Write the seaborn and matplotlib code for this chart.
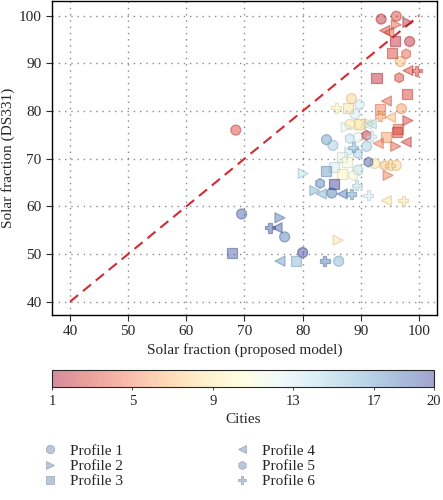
import numpy as np
import pandas as pd
import seaborn as sns
import matplotlib.pyplot as plt
from matplotlib.colors import ListedColormap, Normalize
from matplotlib.cm import ScalarMappable
from matplotlib.lines import Line2D

# Values: (proposed model, DS331, city index)
p1_x = [93.5, 96.1, 98.4, 96.8, 88.4, 97.0, 89.0, 88.1, 84.1, 85.2, 91.0, 92.4, 96.1, 89.5, 85.0, 69.5, 76.9, 80.0, 86.2, 68.5]
p1_y = [99.3, 99.9, 94.6, 90.4, 82.6, 80.5, 79.4, 77.2, 74.0, 72.8, 72.6, 69.0, 68.6, 67.6, 62.8, 58.4, 53.6, 50.3, 48.5, 76.0]
p1_c = [2, 3, 2, 7, 8, 6, 13, 9, 17, 15, 15, 9, 8, 14, 18, 19, 18, 20, 16, 3]

p2_x = [96.1, 98.1, 96.0, 94.7, 80.1, 82.1, 76.1, 86.1, 87.5, 91.5, 98.1, 88.1]
p2_y = [98.1, 98.6, 72.6, 66.5, 66.9, 63.3, 57.6, 52.9, 76.6, 77.4, 78.0, 71.4]
p2_c = [4, 2, 4, 5, 14, 16, 18, 9, 12, 10, 3, 13]

p3_x = [95.8, 95.3, 92.7, 98.0, 87.8, 93.3, 89.8, 96.4, 94.4, 96.2, 86.7, 87.7, 85.4, 84.0, 86.8, 85.4, 67.8, 78.8, 89.7]
p3_y = [94.8, 92.1, 87.0, 83.6, 80.7, 80.5, 77.3, 76.3, 74.5, 75.6, 70.4, 69.3, 68.3, 67.4, 66.7, 64.6, 50.3, 48.5, 77.2]
p3_c = [2, 3, 2, 3, 9, 5, 8, 4, 6, 3, 12, 11, 13, 17, 10, 20, 19, 16, 10]

p4_x = [94.1, 94.8, 98.1, 94.4, 95.1, 91.0, 93.0, 97.8, 83.2, 86.8, 94.4, 75.6, 76.1, 91.8]
p4_y = [96.9, 96.5, 88.5, 82.1, 78.7, 77.2, 73.2, 73.5, 62.6, 62.6, 61.2, 55.5, 48.5, 77.3]
p4_c = [3, 4, 3, 4, 7, 12, 5, 3, 16, 18, 9, 19, 17, 14]

p5_x = [97.8, 96.6, 83.0, 89.8, 88.1, 89.5, 91.0, 91.3, 88.7, 94.1, 89.5]
p5_y = [92.0, 87.0, 64.8, 81.4, 74.2, 74.5, 74.9, 69.3, 66.5, 68.6, 71.1]
p5_c = [4, 3, 18, 13, 14, 12, 2, 19, 11, 7, 15]

p6_x = [99.6, 85.8, 93.3, 91.8, 95.0, 89.3, 88.4, 91.3, 97.3, 74.4, 83.8, 88.7]
p6_y = [88.5, 80.7, 78.9, 74.7, 68.6, 64.4, 62.6, 62.3, 61.2, 55.5, 48.5, 72.4]
p6_c = [3, 10, 6, 13, 8, 14, 17, 13, 9, 19, 18, 16]

profiles = ["Profile 1", "Profile 2", "Profile 3", "Profile 4", "Profile 5", "Profile 6"]
city_ticks = [1, 5, 9, 13, 17, 20]
axis_ticks = [40, 50, 60, 70, 80, 90, 100]
diag = [40, 100]

# build long table
frames = []
for name, xs, ys, cs in zip(profiles,
                            [p1_x, p2_x, p3_x, p4_x, p5_x, p6_x],
                            [p1_y, p2_y, p3_y, p4_y, p5_y, p6_y],
                            [p1_c, p2_c, p3_c, p4_c, p5_c, p6_c]):
    frames.append(pd.DataFrame({"model": xs, "ds331": ys, "city": cs, "profile": name}))
df = pd.concat(frames, ignore_index=True)

sns.set_style("ticks")
plt.rcParams['font.family'] = ['Liberation Serif', 'DejaVu Serif']
plt.rcParams['font.size'] = 11

# pale RdYlBu
base = plt.get_cmap("RdYlBu")
cols = base(np.linspace(0, 1, 256))
cols[:, 3] = 0.45
cmap = ListedColormap(cols)
norm = Normalize(1, 20)

edge = base(norm(df["city"].values))
edge[:, :3] *= 0.8
edge[:, 3] = 0.45

markers = {"Profile 1": "o", "Profile 2": ">", "Profile 3": "s",
           "Profile 4": "<", "Profile 5": "h", "Profile 6": "P"}

fig = plt.figure(figsize=(4.43, 5.0), dpi=100)
ax = fig.add_axes([0.1174, 0.37, 0.869, 0.628])

ax.grid(True, color="#8a8a8a", linestyle=(0, (1, 3.5)), linewidth=1)
sns.lineplot(x=diag, y=diag, ax=ax, color="#d42a32", linewidth=1.5,
             dashes=False, linestyle=(0, (5, 3)), zorder=3)
sns.scatterplot(data=df, x="model", y="ds331", hue="city", style="profile",
                palette=cmap, hue_norm=norm, markers=markers, s=52,
                edgecolor=edge, linewidth=0.9, legend=False, ax=ax, zorder=4)

ax.set_xlim(36.9, 103.1)
ax.set_ylim(37.2, 103.1)
ax.set_xticks(axis_ticks)
ax.set_yticks(axis_ticks)
ax.set_xlabel("Solar fraction (proposed model)", fontsize=11, labelpad=3)
ax.set_ylabel("Solar fraction (DS331)", fontsize=11, labelpad=3)
ax.tick_params(labelsize=11, length=4, width=0.8)
for sp in ax.spines.values():
    sp.set_visible(True)
    sp.set_linewidth(1)
    sp.set_color("black")

# colour bar for cities
cax = fig.add_axes([0.1174, 0.226, 0.862, 0.034])
sm = ScalarMappable(norm=norm, cmap=cmap)
cb = fig.colorbar(sm, cax=cax, orientation="horizontal")
cb.set_ticks(city_ticks)
cb.ax.tick_params(labelsize=10.5, length=2, width=0.6)
cb.set_label("Cities", fontsize=11, labelpad=4)
cb.outline.set_linewidth(0.8)

# legend for profiles
handles = [Line2D([], [], linestyle="none", marker=markers[p], markersize=6,
                  markerfacecolor="#bcc6d9", markeredgecolor="#a3aec4",
                  markeredgewidth=0.6, label=p) for p in profiles]
fig.legend(handles=handles, loc="upper left", bbox_to_anchor=(0.095, 0.112),
           ncol=2, frameon=False, fontsize=11, handlelength=1.0,
           handletextpad=0.8, labelspacing=0.1, columnspacing=7.3,
           borderaxespad=0, borderpad=0)

fig.savefig("out.png", dpi=100)
